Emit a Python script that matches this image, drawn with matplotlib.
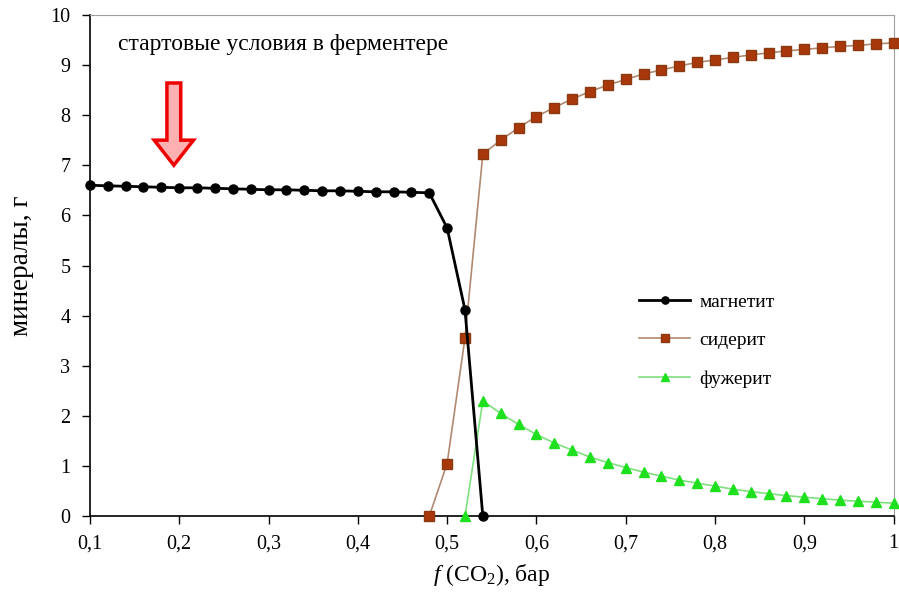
import numpy as np
import matplotlib
matplotlib.use('Agg')
import matplotlib.pyplot as plt
from matplotlib.ticker import FuncFormatter

plt.rcParams['font.family'] = ['Liberation Serif', 'DejaVu Serif']
plt.rcParams['mathtext.fontset'] = 'custom'
plt.rcParams['mathtext.rm'] = 'Liberation Serif'
plt.rcParams['mathtext.it'] = 'Liberation Serif:italic'

# магнетит
x_mag = [0.10, 0.12, 0.14, 0.16, 0.18, 0.20, 0.22, 0.24, 0.26, 0.28, 0.30, 0.32,
         0.34, 0.36, 0.38, 0.40, 0.42, 0.44, 0.46, 0.48, 0.50, 0.52, 0.54]
y_mag = [6.60, 6.59, 6.58, 6.57, 6.56, 6.55, 6.55, 6.54, 6.53, 6.52, 6.51, 6.51,
         6.50, 6.49, 6.49, 6.48, 6.47, 6.47, 6.46, 6.45, 5.75, 4.12, 0.0]

# сидерит
x_sid = [0.48, 0.50, 0.52, 0.54, 0.56, 0.58, 0.60, 0.62, 0.64, 0.66, 0.68, 0.70,
         0.72, 0.74, 0.76, 0.78, 0.80, 0.82, 0.84, 0.86, 0.88, 0.90, 0.92, 0.94,
         0.96, 0.98, 1.00]
y_sid = [0.0, 1.05, 3.55, 7.22, 7.50, 7.75, 7.97, 8.15, 8.32, 8.47, 8.60, 8.71,
         8.82, 8.90, 8.98, 9.05, 9.10, 9.15, 9.20, 9.24, 9.28, 9.31, 9.34, 9.37,
         9.39, 9.42, 9.44]

# фужерит
x_fug = [0.52, 0.54, 0.56, 0.58, 0.60, 0.62, 0.64, 0.66, 0.68, 0.70, 0.72, 0.74,
         0.76, 0.78, 0.80, 0.82, 0.84, 0.86, 0.88, 0.90, 0.92, 0.94, 0.96, 0.98, 1.00]
y_fug = [0.0, 2.30, 2.05, 1.83, 1.63, 1.46, 1.32, 1.18, 1.07, 0.97, 0.88, 0.80,
         0.72, 0.66, 0.60, 0.54, 0.49, 0.45, 0.41, 0.38, 0.35, 0.32, 0.30, 0.28, 0.26]

x_ticks = [0.1, 0.2, 0.3, 0.4, 0.5, 0.6, 0.7, 0.8, 0.9, 1.0]
y_ticks = list(range(0, 11))

fig = plt.figure(figsize=(8.99, 5.92), dpi=100)
ax = fig.add_axes([0.1, 0.128, 0.894, 0.847])

ax.plot(x_fug, y_fug, color='#7ee07e', lw=1.2, marker='^', ms=7,
        mfc='#1fe01f', mec='#1fe01f', label='фужерит', clip_on=False, zorder=3)
ax.plot(x_sid, y_sid, color='#b08a70', lw=1.2, marker='s', ms=7,
        mfc='#a8380a', mec='#8a3a10', label='сидерит', clip_on=False, zorder=4)
ax.plot(x_mag, y_mag, color='black', lw=2, marker='o', ms=6.5,
        mfc='black', mec='black', label='магнетит', clip_on=False, zorder=5)

ax.set_xlim(0.1, 1.0)
ax.set_ylim(0, 10)
ax.set_xticks(x_ticks)
ax.set_yticks(y_ticks)
ax.xaxis.set_major_formatter(FuncFormatter(lambda v, p: ('%g' % v).replace('.', ',')))
ax.tick_params(axis='both', labelsize=14.5, direction='out', length=6, width=1)
ax.tick_params(axis='x', pad=7)
ax.tick_params(axis='y', pad=8)

for s in ['top', 'right']:
    ax.spines[s].set_color('#a0a0a0')
for s in ['left', 'bottom']:
    ax.spines[s].set_color('black')
    ax.spines[s].set_linewidth(1.2)

ax.set_xlabel(r'$\mathit{f}$ (CO$_2$), бар', fontsize=17, labelpad=6)
ax.set_ylabel('минералы, г', fontsize=19.5, labelpad=12)

ax.text(0.131, 9.4, 'стартовые условия в ферментере', fontsize=17,
        va='center', ha='left')
ax.arrow(0.194, 8.64, 0, -1.64, width=0.0155, head_width=0.044, head_length=0.5,
         length_includes_head=True, fc='#ffb0b0', ec='#ee0000', lw=2.5, zorder=6)

h, l = ax.get_legend_handles_labels()
ax.legend(h[::-1], l[::-1], loc='upper left', bbox_to_anchor=(0.662, 0.48),
          frameon=False, fontsize=14, handlelength=2.6, labelspacing=1.08,
          handletextpad=0.5, markerscale=0.8)

fig.savefig('out.png', dpi=100)
